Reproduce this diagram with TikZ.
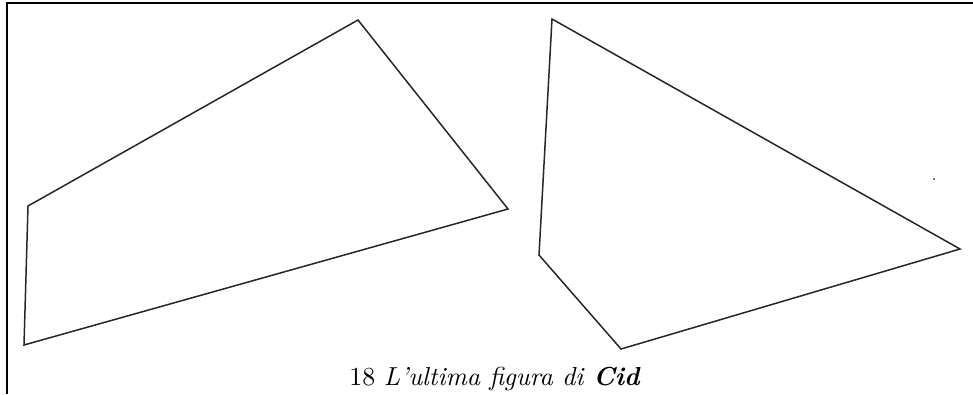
\documentclass[tikz,border=0pt]{standalone}
\usepackage{fontspec}
\usepackage{tikz}
\usetikzlibrary{calc}
\tikzset{
  frameline/.style={line width=2.2pt,draw=black},
  shapeline/.style={line width=1.5pt,draw=black!85,line join=miter},
  captiontext/.style={anchor=base,inner sep=0pt,font=\normalsize,scale=2.6}
}
\begin{document}
\begin{tikzpicture}[x=1pt,y=-1pt]
  \useasboundingbox (0,0) rectangle (973,394);
  % frame
  \coordinate (framebl) at (7,394);
  \coordinate (frametl) at (7,3);
  \coordinate (frametr) at (973,3);
  \draw[frameline] (framebl)--(frametl)--(frametr);
  % first figure
  \coordinate (lefta) at (28,206);
  \coordinate (leftd) at (358,20);
  \coordinate (leftc) at (508,209);
  \coordinate (leftb) at (24,345);
  \draw[shapeline] (lefta)--(leftd)--(leftc)--(leftb)--cycle;
  % second figure
  \coordinate (righte) at (552,19);
  \coordinate (righth) at (960,249);
  \coordinate (rightg) at (621,349);
  \coordinate (rightf) at (539,255);
  \draw[shapeline] (righte)--(righth)--(rightg)--(rightf)--cycle;
  \fill[black!70] (934,179) circle (1.2);
  % caption
  \node[captiontext] (cap) at (495,385) {18 \textit{L’ultima figura di} \textbf{\textit{Cid}}};
\end{tikzpicture}
\end{document}
